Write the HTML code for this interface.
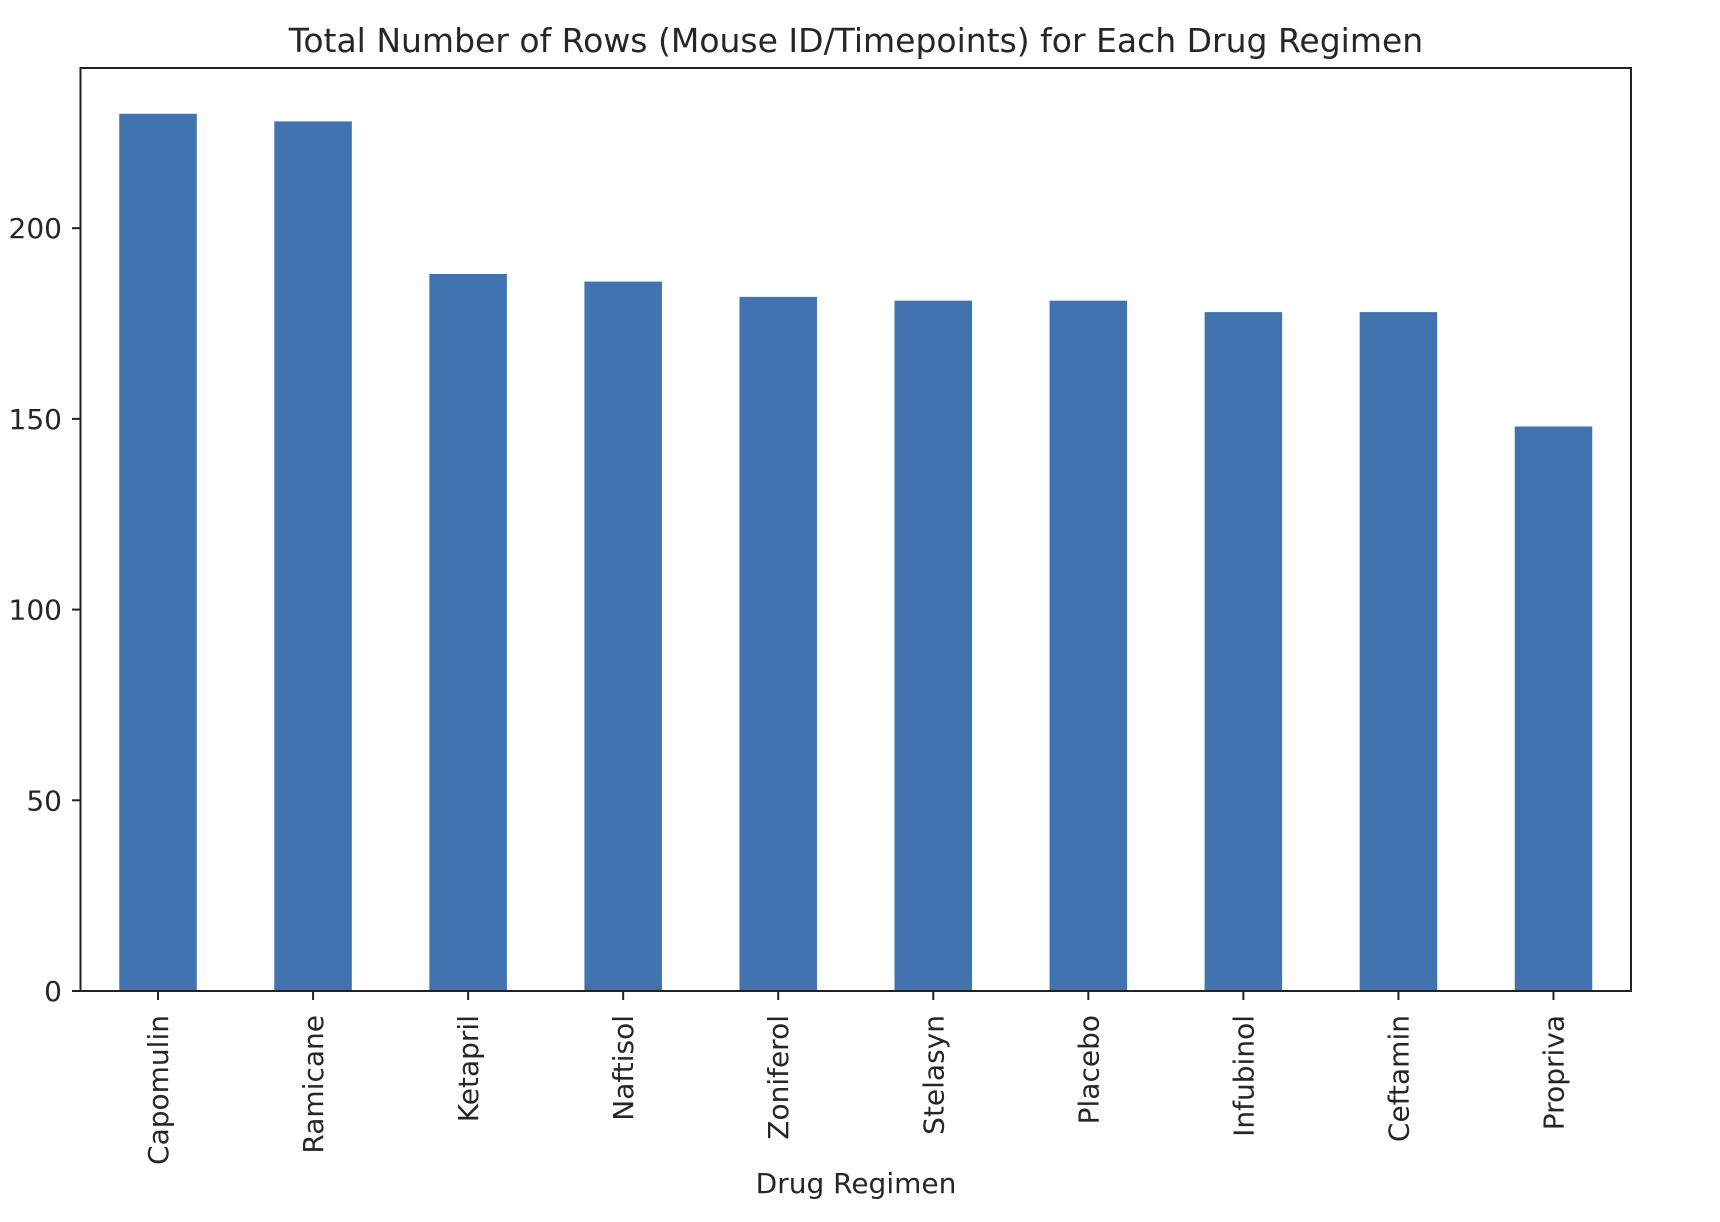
<!DOCTYPE html>
<html><head><meta charset="utf-8"><style>
html,body{margin:0;padding:0;background:#fff;}
svg{display:block;font-family:"DejaVu Sans","Liberation Sans",sans-serif;}
</style></head><body>
<svg id="chart" width="1720" height="1222" viewBox="0 0 1720 1222">
<text x="856" y="52" text-anchor="middle" font-size="33" fill="#262626">Total Number of Rows (Mouse ID/Timepoints) for Each Drug Regimen</text>
<g id="bars"></g>
<g id="yticks"></g>
<g id="xticks"></g>
<rect x="80.5" y="68" width="1550.5" height="923" fill="none" stroke="#222" stroke-width="2"/>
<text x="856" y="1193" text-anchor="middle" font-size="28" fill="#262626">Drug Regimen</text>
</svg>
<script>
const categories = ["Capomulin","Ramicane","Ketapril","Naftisol","Zoniferol","Stelasyn","Placebo","Infubinol","Ceftamin","Propriva"];
const counts = [230,228,188,186,182,181,181,178,178,148];
const yTickValues = [0,50,100,150,200];
const yTickLabels = ["0","50","100","150","200"];

const NS="http://www.w3.org/2000/svg";
const plotLeft=80.5,plotRight=1631,plotTop=68,plotBottom=991,yMax=242;
const yScale=v=>plotBottom-(v/yMax)*(plotBottom-plotTop);
const band=(plotRight-plotLeft)/categories.length;
const xScale=i=>plotLeft+band*(i+0.5);
const bw=band*0.5;
function mk(tag,attrs){const e=document.createElementNS(NS,tag);for(const k in attrs)e.setAttribute(k,attrs[k]);return e;}
const gb=document.getElementById('bars'),gy=document.getElementById('yticks'),gx=document.getElementById('xticks');
counts.forEach((v,i)=>{
  const r=mk('rect',{x:xScale(i)-bw/2,y:yScale(v),width:bw,height:plotBottom-yScale(v),fill:'#4174ae'});
  
  
  gb.appendChild(r);
});
yTickValues.forEach((v,i)=>{
  const y=yScale(v);
  const l=mk('line',{x1:72,x2:80.5,y1:y,y2:y,stroke:'#222','stroke-width':2});
  
  
  gy.appendChild(l);
  const t=mk('text',{x:62,y:y+10,'text-anchor':'end','font-size':'28',fill:'#262626'});
  t.textContent=yTickLabels[i];
  
  
  gy.appendChild(t);
});
categories.forEach((c,i)=>{
  const x=xScale(i);
  const l=mk('line',{x1:x,x2:x,y1:plotBottom,y2:plotBottom+9,stroke:'#222','stroke-width':2});
  
  
  gx.appendChild(l);
  const t=mk('text',{x:0,y:0,'text-anchor':'end','font-size':'28',fill:'#262626',transform:'translate('+(x+10)+','+(plotBottom+24)+') rotate(-90)'});
  t.textContent=c;
  
  
  gx.appendChild(t);
});
</script>
</body></html>
